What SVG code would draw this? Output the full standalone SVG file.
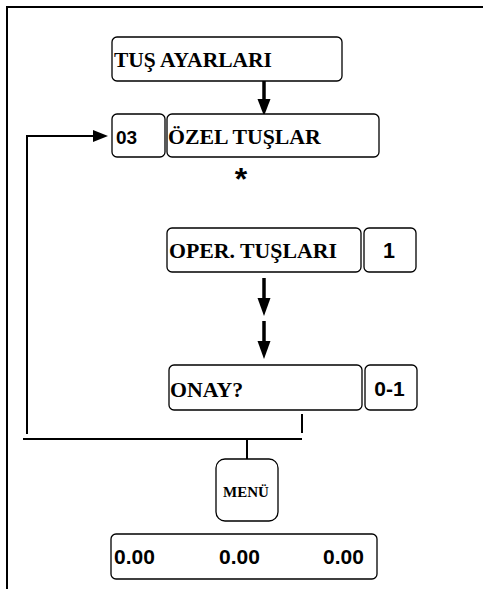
<svg xmlns="http://www.w3.org/2000/svg" width="483" height="589" viewBox="0 0 483 589">
<style>
.box{fill:#fff;stroke:#000;stroke-width:1.3}
.serif{font-family:"Liberation Serif","Times New Roman",serif;font-weight:bold;fill:#000}
.sans{font-family:"Liberation Sans",Arial,sans-serif;font-weight:bold;fill:#000}
.ln{stroke:#000;stroke-width:2;fill:none}
.thick{stroke:#000;stroke-width:3.5;fill:none}
.head{fill:#000}
</style>
<rect width="483" height="589" fill="#fff"/>
<g id="frame">
<line class="ln" x1="6" y1="7" x2="483" y2="7" stroke-width="2.5"/>
<line class="ln" x1="7" y1="6" x2="7" y2="589" stroke-width="2.5"/>
</g>
<g id="connectors">
<line class="thick" x1="264" y1="81" x2="264" y2="101"/>
<polygon class="head" points="257.5,99 270.5,99 264,116"/>
<line class="thick" x1="264" y1="278" x2="264" y2="300"/>
<polygon class="head" points="257.5,298 270.5,298 264,316"/>
<line class="thick" x1="264" y1="321" x2="264" y2="343"/>
<polygon class="head" points="257.5,341 270.5,341 264,359"/>
<polyline class="ln" points="27,434 27,136 95,136"/>
<polygon class="head" points="93,130 108,136 93,142"/>
<line class="ln" x1="302" y1="414" x2="302" y2="433"/>
<line class="ln" x1="23" y1="439" x2="302" y2="439"/>
<line class="ln" x1="247" y1="439" x2="247" y2="459"/>
</g>
<g id="tus-ayarlari">
<rect class="box" x="112" y="37" width="230" height="44" rx="5"/>
<text class="serif" x="114" y="66.5" font-size="21.5">TUŞ AYARLARI</text>
</g>
<g id="code-03">
<rect class="box" x="112" y="114" width="53" height="43" rx="5"/>
<text class="sans" x="116" y="144.3" font-size="19">03</text>
</g>
<g id="ozel-tuslar">
<rect class="box" x="167" y="114" width="212" height="43" rx="5"/>
<text class="serif" x="168" y="144.3" font-size="21.8">ÖZEL TUŞLAR</text>
<text class="sans" x="241" y="190" font-size="32" text-anchor="middle">*</text>
</g>
<g id="oper-tuslari">
<rect class="box" x="167" y="228" width="194" height="44" rx="5"/>
<text class="serif" x="169" y="258" font-size="21.8">OPER. TUŞLARI</text>
</g>
<g id="val-1">
<rect class="box" x="364" y="228" width="52" height="44" rx="5"/>
<text class="sans" x="389" y="257.5" font-size="21.5" text-anchor="middle">1</text>
</g>
<g id="onay">
<rect class="box" x="169" y="365" width="193" height="45" rx="5"/>
<text class="serif" x="170" y="396.5" font-size="21.8">ONAY?</text>
</g>
<g id="val-0-1">
<rect class="box" x="365" y="365" width="52" height="45" rx="5"/>
<text class="sans" x="389.5" y="396" font-size="21" text-anchor="middle">0-1</text>
</g>
<g id="menu">
<rect class="box" x="216" y="459" width="62" height="62" rx="9"/>
<text class="serif" x="246" y="497" font-size="15" text-anchor="middle">MENÜ</text>
</g>
<g id="display">
<rect class="box" x="111" y="534" width="266" height="45" rx="5"/>
<text class="sans" x="114" y="564" font-size="21">0.00</text>
<text class="sans" x="219" y="564" font-size="21">0.00</text>
<text class="sans" x="323" y="564" font-size="21">0.00</text>
</g>
</svg>
